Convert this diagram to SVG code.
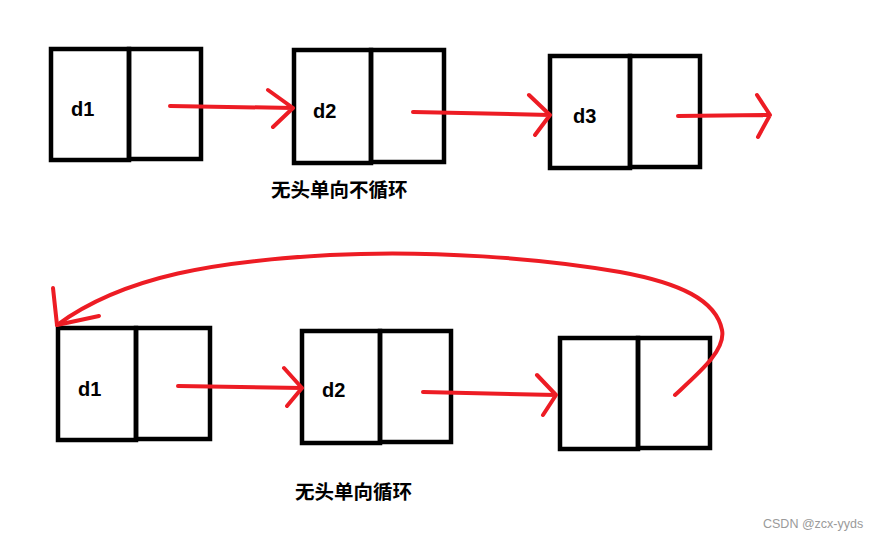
<svg xmlns="http://www.w3.org/2000/svg" width="880" height="540" viewBox="0 0 880 540">
<style>
.box{fill:none;stroke:#000;stroke-width:4.5}
.lbl{font-family:"Liberation Sans",Arial,sans-serif;font-weight:bold;font-size:20px;fill:#000}
.cap{font-family:"Noto Sans CJK SC","Liberation Sans",sans-serif;font-weight:bold;font-size:19.5px;fill:#000}
.wm{font-family:"Liberation Sans",Arial,sans-serif;font-size:12.5px;fill:#9a9a9a}
.red{fill:none;stroke:#ed1c24;stroke-width:4;stroke-linecap:round;stroke-linejoin:round}
</style>
<rect width="880" height="540" fill="#fff"/>
<g id="top-n1"><rect class="box" x="51" y="49" width="78" height="111"/><rect class="box" x="129" y="49" width="72" height="110"/><text class="lbl" x="71" y="116">d1</text></g>
<g id="top-n2"><rect class="box" x="294" y="50" width="77" height="113"/><rect class="box" x="371" y="50" width="73" height="112"/><text class="lbl" x="313" y="118">d2</text></g>
<g id="top-n3"><rect class="box" x="550" y="56" width="80" height="112"/><rect class="box" x="630" y="56" width="70" height="111"/><text class="lbl" x="573" y="123">d3</text></g>
<g id="bot-n1"><rect class="box" x="58" y="328" width="78" height="112"/><rect class="box" x="136" y="328" width="74" height="111"/><text class="lbl" x="78" y="396">d1</text></g>
<g id="bot-n2"><rect class="box" x="302" y="331" width="78" height="112"/><rect class="box" x="380" y="331" width="71" height="111"/><text class="lbl" x="322" y="397">d2</text></g>
<g id="bot-n3"><rect class="box" x="560" y="338" width="78" height="111"/><rect class="box" x="638" y="338" width="72" height="110"/></g>
<g id="connectors">
<path class="red" d="M170,106 L293,108 M268,90 L293,108 L273,127"/>
<path class="red" d="M413,112 L550,115 M529,95 L550,115 L535,135"/>
<path class="red" d="M678,116 L770,115 M757,95 L770,115 L758,137"/>
<path class="red" d="M178,386 L302,388 M284,368 L302,388 L287,406"/>
<path class="red" d="M423,392 L556,395 M537,375 L556,395 L543,415"/>
<path class="red" d="M675,395 C700,372 726,350 722,330 C716,300 680,283 620,272 C540,258 430,250 330,255 C220,261 125,275 57,325"/>
<path class="red" d="M53,288 L57,325 L99,316"/>
</g>
<text class="cap" x="271" y="197">无头单向不循环</text>
<text class="cap" x="295" y="499">无头单向循环</text>
<text class="wm" x="763" y="528">CSDN @zcx-yyds</text>
</svg>
